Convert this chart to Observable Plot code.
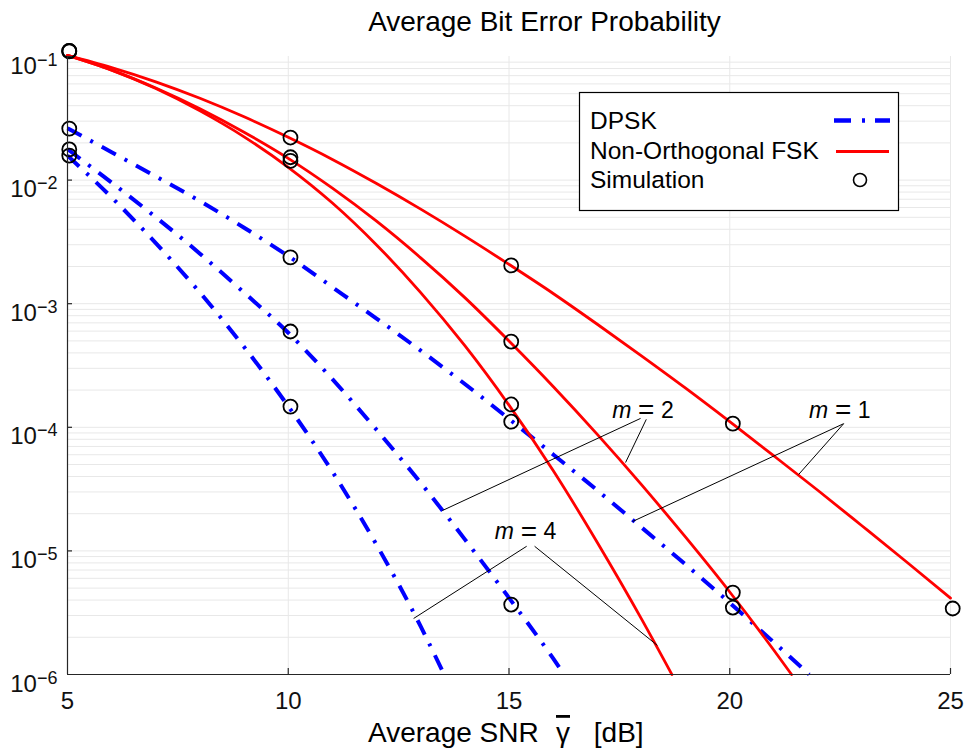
<!DOCTYPE html>
<html>
<head>
<meta charset="utf-8">
<script src="https://cdn.jsdelivr.net/npm/d3@7"></script>
<script src="https://cdn.jsdelivr.net/npm/@observablehq/plot@0.6"></script>
<style>
  html, body { margin: 0; padding: 0; background: #ffffff; }
  #chart { width: 970px; height: 751px; }
</style>
</head>
<body>
<div id="chart"></div>
<script>
// ---------------- data ----------------
// Non-orthogonal FSK (theory), m = 1, 2, 4
const fskSnrM1 = [5,6,7,8,9,10,11,12,13,14,15,16,17,18,19,20,21,22,23,24,25];
const fskPbM1  = [1.02e-1,8.13e-2,6.24e-2,4.59e-2,3.25e-2,2.22e-2,1.47e-2,9.38e-3,5.82e-3,3.52e-3,2.08e-3,1.21e-3,6.82e-4,3.78e-4,2.07e-4,1.11e-4,5.87e-5,3.08e-5,1.59e-5,8.17e-6,4.15e-6];
const fskSnrM2 = [5,6,7,8,9,10,11,12,13,14,15,16,17,18,19,20,21,21.4];
const fskPbM2  = [1.02e-1,7.76e-2,5.56e-2,3.78e-2,2.44e-2,1.50e-2,8.61e-3,4.65e-3,2.35e-3,1.12e-3,4.99e-4,2.14e-4,8.77e-5,3.44e-5,1.29e-5,4.65e-6,1.57e-6,1.00e-6];
const fskSnrM4 = [5,6,7,8,9,10,11,12,13,14,15,16,17,18,18.69];
const fskPbM4  = [1.02e-1,7.76e-2,5.50e-2,3.63e-2,2.24e-2,1.27e-2,6.53e-3,2.99e-3,1.23e-3,4.57e-4,1.51e-4,4.47e-5,1.17e-5,2.82e-6,1.00e-6];

// DPSK (theory), m = 1, 2, 4
const dpskSnrM1 = [5,6,7,8,9,10,11,12,13,14,15,16,17,18,19,20,21,21.8];
const dpskPbM1  = [2.63e-2,1.68e-2,1.07e-2,6.76e-3,4.12e-3,2.43e-3,1.36e-3,7.59e-4,4.17e-4,2.24e-4,1.17e-4,6.03e-5,3.09e-5,1.55e-5,7.76e-6,3.80e-6,1.82e-6,1.00e-6];
const dpskSnrM2 = [5,6,7,8,9,10,11,12,13,14,15,16,16.25];
const dpskPbM2  = [1.78e-2,9.55e-3,5.01e-3,2.54e-3,1.23e-3,5.82e-4,2.45e-4,9.55e-5,3.55e-5,1.24e-5,4.17e-6,1.35e-6,1.00e-6];
const dpskSnrM4 = [5,6,7,8,9,10,11,12,13,13.53];
const dpskPbM4  = [1.58e-2,7.24e-3,3.09e-3,1.23e-3,4.47e-4,1.48e-4,4.37e-5,1.12e-5,2.45e-6,1.00e-6];

// Simulation points
const simSnrFskM1 = [5.04,10.05,15.05,20.07,25.05];
const simPbFskM1  = [1.11e-1,2.21e-2,2.04e-3,1.07e-4,3.42e-6];
const simSnrFskM2 = [5.04,10.05,15.05,20.07];
const simPbFskM2  = [1.11e-1,1.53e-2,4.94e-4,4.60e-6];
const simSnrFskM4 = [5.04,10.05,15.05];
const simPbFskM4  = [1.10e-1,1.43e-2,1.53e-4];
const simSnrDpskM1 = [5.04,10.05,15.05,20.07];
const simPbDpskM1  = [2.61e-2,2.37e-3,1.11e-4,3.48e-6];
const simSnrDpskM2 = [5.04,10.05,15.05];
const simPbDpskM2  = [1.77e-2,5.96e-4,3.68e-6];
const simSnrDpskM4 = [5.04,10.05];
const simPbDpskM4  = [1.58e-2,1.47e-4];

// Annotations (label centre and leader lines)
const annotM      = ["2", "1", "4"];
const annotSnr    = [18.03, 22.49, 15.37];
const annotPb     = [1.37e-4, 1.37e-4, 1.42e-5];
const leaderSnr1  = [17.98, 18.11, 22.58, 22.58, 15.40, 15.58];
const leaderPb1   = [1.18e-4, 1.16e-4, 1.07e-4, 1.07e-4, 1.09e-5, 1.09e-5];
const leaderSnr2  = [13.49, 17.64, 17.80, 21.56, 12.84, 18.36];
const leaderPb2   = [2.12e-5, 5.19e-5, 1.73e-5, 4.15e-5, 2.84e-6, 1.72e-6];

// Axes
const xTicks = [5, 10, 15, 20, 25];
const yMajorTicks = [1e-6, 1e-5, 1e-4, 1e-3, 1e-2, 1e-1];
const legendLabels = ["DPSK", "Non-Orthogonal FSK", "Simulation"];
const titleText = "Average Bit Error Probability";

// ---------------- build tables ----------------
const zip = (xs, ys, m) => xs.map((x, i) => ({snr: x, pb: ys[i], m}));
const fskRows  = [...zip(fskSnrM1, fskPbM1, 1), ...zip(fskSnrM2, fskPbM2, 2), ...zip(fskSnrM4, fskPbM4, 4)];
const dpskRows = [...zip(dpskSnrM1, dpskPbM1, 1), ...zip(dpskSnrM2, dpskPbM2, 2), ...zip(dpskSnrM4, dpskPbM4, 4)];
const simRows  = [
  ...zip(simSnrFskM1, simPbFskM1, 1), ...zip(simSnrFskM2, simPbFskM2, 2), ...zip(simSnrFskM4, simPbFskM4, 4),
  ...zip(simSnrDpskM1, simPbDpskM1, 1), ...zip(simSnrDpskM2, simPbDpskM2, 2), ...zip(simSnrDpskM4, simPbDpskM4, 4)
];
const annotRows  = annotM.map((m, i) => ({m, snr: annotSnr[i], pb: annotPb[i]}));
const leaderRows = leaderSnr1.map((x, i) => ({x1: x, y1: leaderPb1[i], x2: leaderSnr2[i], y2: leaderPb2[i]}));

const yGrid = d3.scaleLog().domain([1e-6, 1e-1]).ticks().filter(v => v > 1.0001e-6 && v < 0.0999);

// ---------------- layout ----------------
const W = 970, H = 751;
const mT = 56, mR = 20, mB = 77, mL = 67;
const plotW = W - mL - mR, plotH = H - mT - mB;
const FONT = "'Liberation Sans', Arimo, Arial, Helvetica, sans-serif";
const AXC = "#262626";
const GRID = "#e8e8e8";
const dashDot = "16,10,3,10";

const svg = Plot.plot({
  width: W, height: H,
  marginTop: mT, marginRight: mR, marginBottom: mB, marginLeft: mL,
  x: {type: "linear", domain: [5, 25]},
  y: {type: "log", domain: [1e-6, 1e-1]},
  style: {fontFamily: FONT, fontSize: "24px", color: "#000", background: "#fff", overflow: "visible"},
  marks: [
    Plot.ruleY(yGrid, {y: d => d, stroke: GRID, strokeWidth: 1}),
    Plot.ruleX(xTicks.slice(1), {x: d => d, stroke: GRID, strokeWidth: 1}),
    Plot.line(dpskRows, {x: "snr", y: "pb", z: "m", stroke: "#0000ff", strokeWidth: 4, strokeDasharray: dashDot, strokeLinecap: "butt", curve: "monotone-x"}),
    Plot.line(fskRows, {x: "snr", y: "pb", z: "m", stroke: "#ff0000", strokeWidth: 2.8, curve: "monotone-x"}),
    Plot.dot(simRows, {x: "snr", y: "pb", r: 7, stroke: "#000", strokeWidth: 1.8, fill: "none"}),
    Plot.link(leaderRows, {x1: "x1", y1: "y1", x2: "x2", y2: "y2", stroke: "#000", strokeWidth: 1}),
    Plot.text(annotRows, {x: "snr", y: "pb", text: () => "m", dx: -21, fontStyle: "italic", fontSize: 23, fill: "#000"}),
    Plot.text(annotRows, {x: "snr", y: "pb", text: () => "=", dx: 3.5, fontSize: 28, fill: "#000"}),
    Plot.text(annotRows, {x: "snr", y: "pb", text: "m", dx: 24.5, fontSize: 23, fill: "#000"}),
    Plot.ruleX([5], {x: d => d, stroke: AXC, strokeWidth: 1.2}),
    Plot.ruleY([1e-6], {y: d => d, stroke: AXC, strokeWidth: 1.2}),
    Plot.tickX(xTicks.slice(1), {x: d => d, insetTop: plotH - 6, stroke: AXC, strokeWidth: 1.2}),
    Plot.tickY(yMajorTicks.slice(1), {y: d => d, insetRight: plotW - 5, stroke: AXC, strokeWidth: 1.2}),
    Plot.axisX({ticks: xTicks, tickSize: 0, tickPadding: 17, label: null, fill: "#111", fontSize: 24}),
    Plot.axisY({ticks: yMajorTicks, tickSize: 0, tickPadding: 10, label: null, fill: "#111", fontSize: 24,
      tickFormat: d => String(Math.round(Math.log10(d)))})
  ]
});

document.getElementById("chart").appendChild(svg);
const s = d3.select(svg);

// y tick labels as 10 with a superscript exponent
s.selectAll('g[aria-label="y-axis tick label"] text').each(function() {
  const t = d3.select(this);
  const e = Math.abs(Number(t.text().replace("\u2212", "-")));
  t.text(null).attr("dy", null);
  t.append("tspan").attr("dy", 9.5).attr("font-size", 24).text("10");
  t.append("tspan").attr("dy", -8).attr("font-size", 18).text("\u2212" + e);
});

// title
s.append("text")
  .attr("x", 544.5).attr("y", 31)
  .attr("text-anchor", "middle").attr("font-size", 28).attr("fill", "#000")
  .text(titleText);

// x-axis label
const xl = s.append("text").attr("y", 742).attr("font-size", 28).attr("fill", "#000").attr("text-anchor", "start");
xl.append("tspan").attr("x", 368).text("Average SNR ");
xl.append("tspan").attr("x", 556).style("text-decoration", "overline").text("\u03B3");
xl.append("tspan").attr("x", 586).text(" [dB]");

// legend
const lg = s.append("g").attr("text-anchor", "start");
lg.append("rect").attr("x", 579.5).attr("y", 92.5).attr("width", 319).attr("height", 118)
  .attr("fill", "#fff").attr("stroke", "#000").attr("stroke-width", 1.2);
const rowsY = [129, 159, 188];
legendLabels.forEach((lab, i) => {
  lg.append("text").attr("x", 590).attr("y", rowsY[i]).attr("font-size", 24.5).attr("fill", "#000").text(lab);
});
lg.append("line").attr("x1", 834).attr("x2", 890).attr("y1", 120.5).attr("y2", 120.5)
  .attr("stroke", "#0000ff").attr("stroke-width", 4.5).attr("stroke-dasharray", "17,11,3,10");
lg.append("line").attr("x1", 836).attr("x2", 889).attr("y1", 151.5).attr("y2", 151.5)
  .attr("stroke", "#ff0000").attr("stroke-width", 2.8);
lg.append("circle").attr("cx", 860).attr("cy", 180).attr("r", 6.5)
  .attr("fill", "none").attr("stroke", "#000").attr("stroke-width", 1.6);
</script>
</body>
</html>
